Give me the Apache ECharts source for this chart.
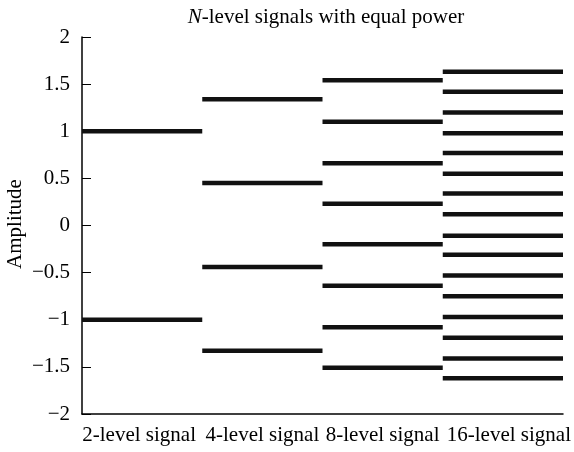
<!DOCTYPE html>
<html><head><meta charset="utf-8">
<script src="https://cdn.jsdelivr.net/npm/echarts@6/dist/echarts.min.js"></script>
<style>html,body{margin:0;padding:0;background:#fff}#c{width:574px;height:452px}</style>
</head><body><div id="c"></div>
<script>
const categories = ['2-level signal', '4-level signal', '8-level signal', '16-level signal'];
const levels2 = [1, -1];
const levels4 = [1.34, 0.45, -0.44, -1.33];
const levels8 = [1.54, 1.10, 0.66, 0.23, -0.20, -0.64, -1.08, -1.51];
const levels16 = [1.63, 1.42, 1.20, 0.98, 0.77, 0.55, 0.34, 0.12, -0.11, -0.31, -0.53, -0.75, -0.97, -1.19, -1.41, -1.62];
const yTicks = [-2, -1.5, -1, -0.5, 0, 0.5, 1, 1.5, 2];
const yAxisTitle = 'Amplitude';

const allLevels = [levels2, levels4, levels8, levels16];
const data = [];
allLevels.forEach((arr, i) => arr.forEach(v => data.push([i, v])));

const font = 'Liberation Serif';
const chart = echarts.init(document.getElementById('c'));
chart.setOption({
  animation: false,
  backgroundColor: '#fff',
  title: {
    text: '{i|N}-level signals with equal power',
    left: 321, top: 2, textAlign: 'center',
    textStyle: {
      fontFamily: font, fontSize: 21, fontWeight: 'normal', color: '#000',
      rich: { i: { fontFamily: font, fontSize: 21, fontStyle: 'italic', color: '#000' } }
    }
  },
  graphic: [{
    type: 'text', x: 15, y: 224, rotation: Math.PI / 2,
    style: { text: yAxisTitle, fontFamily: font, fontSize: 21, fill: '#000', align: 'center', verticalAlign: 'middle' }
  }],
  grid: { left: 82, right: 11, top: 37, bottom: 38, containLabel: false, outerBoundsMode: 'none' },
  xAxis: {
    type: 'category', data: categories, boundaryGap: true,
    axisLine: { onZero: false, lineStyle: { color: '#000', width: 1.5 } },
    axisTick: { show: false },
    axisLabel: {
      color: '#000', fontFamily: font, fontSize: 21, margin: 11, interval: 0, hideOverlap: false,
      formatter: (v, i) => i === 0 ? '{a|' + v + '}' : (i === 3 ? '{d|' + v + '}' : v),
      rich: {
        a: { fontFamily: font, fontSize: 21, color: '#000', padding: [0, 6, 0, 0] },
        d: { fontFamily: font, fontSize: 21, color: '#000', padding: [0, 0, 0, 12] }
      }
    }
  },
  yAxis: {
    type: 'value', min: -2, max: 2, interval: 0.5,
    axisLine: { show: true, lineStyle: { color: '#000', width: 1.5 } },
    axisTick: { show: true, inside: true, length: 9, lineStyle: { color: '#000', width: 1 } },
    splitLine: { show: false },
    axisLabel: {
      color: '#000', fontFamily: font, fontSize: 21, margin: 12,
      formatter: v => yTicks.includes(v) ? String(v).replace('-', '\u2212') : ''
    }
  },
  series: [{
    type: 'custom',
    data: data,
    renderItem: (params, api) => {
      const p = api.coord([api.value(0), api.value(1)]);
      const w = api.size([1, 0])[0];
      return {
        type: 'line',
        shape: { x1: p[0] - w / 2, y1: p[1], x2: p[0] + w / 2, y2: p[1] },
        style: { stroke: '#111', lineWidth: 4.5 }
      };
    }
  }]
});
</script></body></html>
